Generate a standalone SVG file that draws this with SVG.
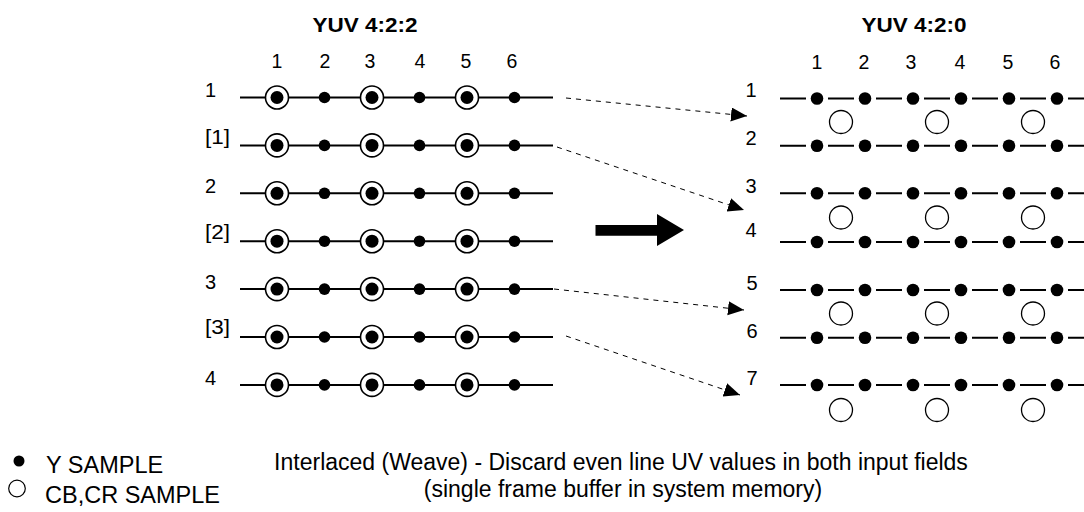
<svg xmlns="http://www.w3.org/2000/svg" width="1084" height="512" viewBox="0 0 1084 512">
<style>
text{font-family:"Liberation Sans",Arial,sans-serif;fill:#000}
.t{font-size:21px;font-weight:bold;text-anchor:middle}
.n{font-size:19.5px;text-anchor:middle}
.l{font-size:20px}
.r{font-size:20px;text-anchor:middle}
.lg{font-size:23.5px}
.cap{font-size:23px;text-anchor:middle}
.ln{stroke:#000;stroke-width:2;fill:none}
.cb{fill:#fff;stroke:#000;stroke-width:1.6}
.cr{fill:#fff;stroke:#000;stroke-width:1.3}
.dash{stroke:#000;stroke-width:1;stroke-dasharray:5 5;fill:none}
</style>
<defs>
<marker id="ah" markerUnits="userSpaceOnUse" markerWidth="17" markerHeight="15" refX="16" refY="7" orient="auto">
<path d="M0,0 L16,7 L0,14 z" fill="#000"/>
</marker>
<g id="lrow">
<line class="ln" x1="240" y1="0" x2="553" y2="0"/>
<circle class="cb" cx="277" cy="0" r="11.5"/><circle cx="277" cy="0" r="6.5"/>
<circle cx="324.5" cy="0" r="5.8"/>
<circle class="cb" cx="372" cy="0" r="11.5"/><circle cx="372" cy="0" r="6.5"/>
<circle cx="419.5" cy="0" r="5.8"/>
<circle class="cb" cx="467" cy="0" r="11.5"/><circle cx="467" cy="0" r="6.5"/>
<circle cx="514.5" cy="0" r="5.8"/>
</g>
<g id="rrow">
<path class="ln" d="M780,0H806M828,0H854M876,0H902M924,0H950M972,0H998M1020,0H1046M1068,0H1084"/>
<circle cx="817" cy="0" r="6.3"/><circle cx="865" cy="0" r="6.3"/><circle cx="913" cy="0" r="6.3"/>
<circle cx="961" cy="0" r="6.3"/><circle cx="1009" cy="0" r="6.3"/><circle cx="1057" cy="0" r="6.3"/>
</g>
<g id="uv">
<circle class="cr" cx="841" cy="0" r="11.5"/><circle class="cr" cx="937" cy="0" r="11.5"/><circle class="cr" cx="1033" cy="0" r="11.5"/>
</g>
</defs>

<g id="title-422"><text class="t" x="365" y="32" textLength="105" lengthAdjust="spacingAndGlyphs">YUV 4:2:2</text></g>
<g id="title-420"><text class="t" x="914" y="32" textLength="105" lengthAdjust="spacingAndGlyphs">YUV 4:2:0</text></g>

<g id="cols-422">
<text class="n" x="277" y="68">1</text><text class="n" x="325" y="68">2</text><text class="n" x="370" y="68">3</text>
<text class="n" x="420" y="68">4</text><text class="n" x="466" y="68">5</text><text class="n" x="512" y="68">6</text>
</g>
<g id="cols-420">
<text class="n" x="817" y="69">1</text><text class="n" x="864" y="69">2</text><text class="n" x="911" y="69">3</text>
<text class="n" x="960" y="69">4</text><text class="n" x="1008" y="69">5</text><text class="n" x="1055" y="69">6</text>
</g>

<g id="l-row1"><text class="l" x="205" y="97">1</text><use href="#lrow" y="97.5"/></g>
<g id="l-row1f"><text class="l" x="205" y="143.5" textLength="25" lengthAdjust="spacingAndGlyphs">[1]</text><use href="#lrow" y="145.4"/></g>
<g id="l-row2"><text class="l" x="205" y="193">2</text><use href="#lrow" y="193.3"/></g>
<g id="l-row2f"><text class="l" x="205" y="239" textLength="25" lengthAdjust="spacingAndGlyphs">[2]</text><use href="#lrow" y="241.2"/></g>
<g id="l-row3"><text class="l" x="205" y="288.5">3</text><use href="#lrow" y="289.1"/></g>
<g id="l-row3f"><text class="l" x="205" y="334" textLength="25" lengthAdjust="spacingAndGlyphs">[3]</text><use href="#lrow" y="337"/></g>
<g id="l-row4"><text class="l" x="205" y="385">4</text><use href="#lrow" y="384.9"/></g>

<g id="r-row1"><text class="r" x="751" y="96.5">1</text><use href="#rrow" y="98.5"/></g>
<g id="r-row2"><text class="r" x="751" y="145">2</text><use href="#rrow" y="145.7"/></g>
<g id="r-row3"><text class="r" x="751" y="193">3</text><use href="#rrow" y="193.3"/></g>
<g id="r-row4"><text class="r" x="751" y="237">4</text><use href="#rrow" y="242"/></g>
<g id="r-row5"><text class="r" x="752" y="290">5</text><use href="#rrow" y="290"/></g>
<g id="r-row6"><text class="r" x="752" y="338">6</text><use href="#rrow" y="337.7"/></g>
<g id="r-row7"><text class="r" x="752" y="385">7</text><use href="#rrow" y="385"/></g>
<g id="r-uv"><use href="#uv" y="122"/><use href="#uv" y="217.5"/><use href="#uv" y="313.5"/><use href="#uv" y="410"/></g>

<g id="connectors">
<line class="dash" x1="566" y1="98" x2="747" y2="116" marker-end="url(#ah)"/>
<line class="dash" x1="557" y1="147" x2="744" y2="210" marker-end="url(#ah)"/>
<line class="dash" x1="554" y1="289" x2="744" y2="310" marker-end="url(#ah)"/>
<line class="dash" x1="566" y1="336" x2="740" y2="395" marker-end="url(#ah)"/>
<polygon points="595.5,225 657,225 657,214 684,230 657,246 657,235.7 595.5,235.7" fill="#000"/>
</g>

<g id="legend">
<circle cx="19" cy="461" r="5.5"/>
<text class="lg" x="46" y="473">Y SAMPLE</text>
<circle cx="17" cy="488.5" r="8.3" fill="none" stroke="#000" stroke-width="1.2"/>
<text class="lg" x="45" y="503">CB,CR SAMPLE</text>
</g>

<g id="caption">
<text class="cap" x="621" y="470">Interlaced (Weave) - Discard even line UV values in both input fields</text>
<text class="cap" x="623" y="497">(single frame buffer in system memory)</text>
</g>
</svg>
